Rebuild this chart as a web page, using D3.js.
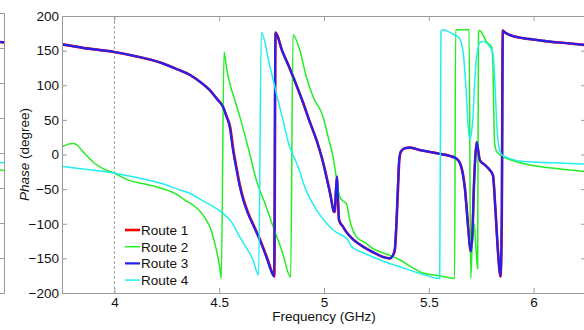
<!DOCTYPE html>
<meta charset="utf-8">
<style>
  body { margin: 0; background: #fff; }
  text { font-family: "Liberation Sans", Arial, sans-serif; }
</style>
<svg width="584" height="330"></svg>

<script src="https://d3js.org/d3.v7.min.js"></script>
<script>
var routeNames = ["Route 1", "Route 2", "Route 3", "Route 4"]
var routeColors = ["#ff0000", "#22ee22", "#2222f0", "#22eeee"]
var xTicks = [4, 4.5, 5, 5.5, 6]
var yTicks = [-200, -150, -100, -50, 0, 50, 100, 150, 200]

var freq1 = [3.75, 3.85, 4.0, 4.1, 4.226, 4.3, 4.36, 4.417, 4.455, 4.49, 4.518, 4.535, 4.552, 4.568, 4.582, 4.6, 4.617, 4.639, 4.667, 4.695, 4.727, 4.758, 4.763, 4.769, 4.8, 4.837, 4.884, 4.9, 4.93, 4.964, 4.99, 5.012, 5.031, 5.047, 5.051, 5.058, 5.062, 5.066, 5.072, 5.09, 5.107, 5.14, 5.186, 5.24, 5.282, 5.313, 5.328, 5.338, 5.346, 5.353, 5.359, 5.367, 5.385, 5.409, 5.45, 5.5, 5.552, 5.6, 5.632, 5.648, 5.661, 5.672, 5.688, 5.7, 5.708, 5.716, 5.722, 5.729, 5.736, 5.743, 5.767, 5.79, 5.806, 5.818, 5.83, 5.842, 5.848, 5.853, 5.86, 5.87, 5.9, 5.95, 6.0, 6.077, 6.15, 6.25]
var phase1 = [159, 154, 148, 142, 132, 123, 115, 103, 93, 80, 69, 55, 40, 6, -18, -46, -66, -85, -104, -123, -148, -174, -176, 176, 150, 124, 88, 75, 49, 21, -5, -32, -58, -82, -83, -50, -32, -60, -95, -104, -112, -123, -133, -142, -148, -150, -146, -138, -100, -50, -10, 4, 9, 10, 7, 4, 1, -2, -6, -12, -25, -47, -104, -140, -115, -40, -3, 18, 5, -8, -15, -22, -30, -80, -140, -176, -100, 179, 177, 175, 171, 168, 166, 163, 161, 158]

var freq2 = [3.75, 3.78, 3.804, 3.825, 3.844, 3.875, 3.907, 3.95, 4.0, 4.067, 4.15, 4.226, 4.3, 4.337, 4.38, 4.417, 4.439, 4.46, 4.479, 4.495, 4.502, 4.51, 4.523, 4.535, 4.55, 4.575, 4.598, 4.64, 4.677, 4.72, 4.757, 4.8, 4.841, 4.852, 4.884, 4.916, 4.95, 4.995, 5.02, 5.043, 5.06, 5.075, 5.09, 5.107, 5.123, 5.155, 5.2, 5.234, 5.3, 5.361, 5.42, 5.472, 5.55, 5.623, 5.628, 5.66, 5.692, 5.7, 5.708, 5.716, 5.726, 5.733, 5.737, 5.743, 5.775, 5.8, 5.806, 5.81, 5.814, 5.822, 5.83, 5.854, 5.95, 6.1, 6.25]
var phase2 = [11, 15, 16, 13, 6, -4, -13, -21, -27, -37, -43, -49, -58, -66, -74, -85, -95, -108, -128, -150, -162, -179, 148, 125, 103, 78, 55, 8, -37, -72, -104, -140, -177, 173, 151, 112, 82, 55, 25, -3, -35, -61, -67, -71, -95, -119, -128, -136, -144, -152, -163, -171, -175, -179, 180, 180, 180, -179, -120, -100, -140, -165, 178, 179, 163, 155, 130, 60, 16, 5, 2, -3, -13, -20, -25]

var freq3 = [3.75, 3.85, 4.0, 4.1, 4.226, 4.3, 4.36, 4.417, 4.455, 4.49, 4.518, 4.535, 4.55, 4.566, 4.58, 4.598, 4.615, 4.637, 4.665, 4.693, 4.725, 4.757, 4.762, 4.768, 4.8, 4.837, 4.884, 4.9, 4.93, 4.964, 4.99, 5.011, 5.03, 5.046, 5.05, 5.057, 5.062, 5.066, 5.072, 5.09, 5.107, 5.14, 5.186, 5.24, 5.282, 5.313, 5.328, 5.337, 5.345, 5.352, 5.358, 5.366, 5.385, 5.409, 5.45, 5.5, 5.552, 5.6, 5.632, 5.648, 5.66, 5.671, 5.687, 5.7, 5.708, 5.716, 5.722, 5.729, 5.736, 5.743, 5.767, 5.79, 5.806, 5.818, 5.83, 5.842, 5.848, 5.853, 5.86, 5.87, 5.9, 5.95, 6.0, 6.077, 6.15, 6.25]
var phase3 = [159, 154, 148, 142, 132, 123, 115, 103, 93, 80, 69, 55, 40, 6, -18, -46, -66, -85, -104, -123, -148, -174, -176, 176, 150, 124, 88, 75, 49, 21, -5, -32, -58, -82, -83, -50, -32, -60, -95, -104, -112, -123, -133, -142, -148, -150, -146, -138, -100, -50, -10, 4, 9, 10, 7, 4, 1, -2, -6, -12, -25, -47, -104, -140, -115, -40, -3, 18, 5, -8, -15, -22, -30, -80, -140, -176, -100, 179, 177, 175, 171, 168, 166, 163, 161, 158]

var freq4 = [3.75, 3.85, 4.0, 4.1, 4.226, 4.3, 4.359, 4.417, 4.47, 4.518, 4.56, 4.598, 4.63, 4.661, 4.688, 4.701, 4.74, 4.773, 4.8, 4.836, 4.866, 4.884, 4.9, 4.93, 4.964, 5.0, 5.043, 5.099, 5.108, 5.115, 5.131, 5.18, 5.234, 5.3, 5.361, 5.45, 5.552, 5.558, 5.565, 5.615, 5.647, 5.656, 5.663, 5.679, 5.688, 5.695, 5.703, 5.711, 5.72, 5.73, 5.745, 5.759, 5.775, 5.79, 5.806, 5.814, 5.825, 5.838, 5.85, 5.87, 5.95, 6.1, 6.25]
var phase4 = [-17, -21, -27, -33, -42, -50, -56, -66, -75, -85, -98, -119, -135, -152, -174, 176, 130, 88, 55, 11, -10, -24, -40, -62, -80, -95, -109, -119, -121, -124, -133, -141, -148, -156, -162, -171, -179, 178, 180, 174, 168, 160, 150, 88, 40, 22, 30, 55, 110, 145, 162, 163, 161, 156, 146, 112, 40, 6, -1, -4, -10, -12, -14]

var freqs = [freq1, freq2, freq3, freq4]
var phases = [phase1, phase2, phase3, phase4]
var routes = routeNames.map(function (name, i) {
  return { name: name, color: routeColors[i], width: (i === 0 ? 2.6 : i === 2 ? 2.2 : 1.5),
    values: freqs[i].map(function (f, j) { return [f, phases[i][j]] }) }
})

var svg = d3.select('svg')

function drawPanel(g, x, y, id, labels) {
  g.append('clipPath').attr('id', id)
    .append('rect')
    .attr('x', x.range()[0]).attr('y', y.range()[1])
    .attr('width', x.range()[1] - x.range()[0]).attr('height', y.range()[0] - y.range()[1])

  g.append('line')
    .attr('x1', x(4)).attr('x2', x(4))
    .attr('y1', y.range()[1]).attr('y2', y.range()[0])
    .attr('stroke', '#a0a0a0').attr('stroke-dasharray', '3,2')

  var line = d3.line()
    .x(function (d) { return x(d[0]) })
    .y(function (d) { return y(d[1]) })
    .curve(d3.curveMonotoneX)

  g.append('g').attr('clip-path', 'url(#' + id + ')')
    .selectAll('path')
    .data(routes)
    .enter().append('path')
      .attr('d', function (d) { return line(d.values) })
      .attr('fill', 'none')
      .attr('stroke', function (d) { return d.color })
      .attr('stroke-width', function (d) { return d.width })
      .attr('stroke-linejoin', 'round')

  var bottom = g.append('g')
    .attr('transform', 'translate(0,' + y.range()[0] + ')')
    .call(d3.axisBottom(x).tickValues(xTicks).tickFormat(d3.format('')).tickSizeInner(-5).tickSizeOuter(0).tickPadding(4))
  var top = g.append('g')
    .attr('transform', 'translate(0,' + y.range()[1] + ')')
    .call(d3.axisTop(x).tickValues(xTicks).tickFormat('').tickSizeInner(-5).tickSizeOuter(0))
  var left = g.append('g')
    .attr('transform', 'translate(' + x.range()[0] + ',0)')
    .call(d3.axisLeft(y).tickValues(yTicks).tickSizeInner(-5).tickSizeOuter(0).tickPadding(3))
  var right = g.append('g')
    .attr('transform', 'translate(' + x.range()[1] + ',0)')
    .call(d3.axisRight(y).tickValues(yTicks).tickFormat('').tickSizeInner(-5).tickSizeOuter(0))

  ;[bottom, top, left, right].forEach(function (a) {
    a.selectAll('.domain').attr('stroke', '#9a9a9a')
    a.selectAll('.tick line').attr('stroke', '#9a9a9a')
    a.selectAll('text').attr('fill', '#111').style('font-size', '13.5px')
    if (!labels) a.selectAll('text').remove()
  })
}

// main chart
var x = d3.scaleLinear().domain([3.75, 6.25]).range([62, 586])
var y = d3.scaleLinear().domain([-200, 200]).range([293, 16])
drawPanel(svg.append('g'), x, y, 'clipMain', true)

// right edge of the neighbouring panel on the left
var leftPanel = svg.append('g').attr('clip-path', 'url(#edgeClip)')
svg.append('clipPath').attr('id', 'edgeClip')
  .append('rect').attr('x', 0).attr('y', 0).attr('width', 6).attr('height', 330)
var x0 = d3.scaleLinear().domain([3.75, 6.25]).range([-520, 4])
var y0 = d3.scaleLinear().domain([-200, 200]).range([293, 13])
drawPanel(leftPanel, x0, y0, 'clipEdge', false)

svg.append('text')
  .attr('x', 324).attr('y', 321)
  .attr('text-anchor', 'middle')
  .style('font-size', '13.5px')
  .attr('fill', '#111')
  .text('Frequency (GHz)')

var yLabel = svg.append('text')
  .attr('transform', 'translate(29,154.5) rotate(-90)')
  .attr('text-anchor', 'middle')
  .style('font-size', '13.5px')
  .attr('fill', '#111')
yLabel.append('tspan').style('font-style', 'italic').text('Phase')
yLabel.append('tspan').text(' (degree)')

var legend = svg.append('g')
  .selectAll('g')
  .data(routes)
  .enter().append('g')
    .attr('transform', function (d, i) { return 'translate(125,' + (230 + i * 16.7) + ')' })
legend.append('line')
  .attr('x1', 0).attr('x2', 15)
  .attr('stroke', function (d) { return d.color })
  .attr('stroke-width', function (d) { return d.width })
legend.append('text')
  .attr('x', 16).attr('dy', '0.36em')
  .style('font-size', '13.5px')
  .attr('fill', '#111')
  .text(function (d) { return d.name })
</script>
